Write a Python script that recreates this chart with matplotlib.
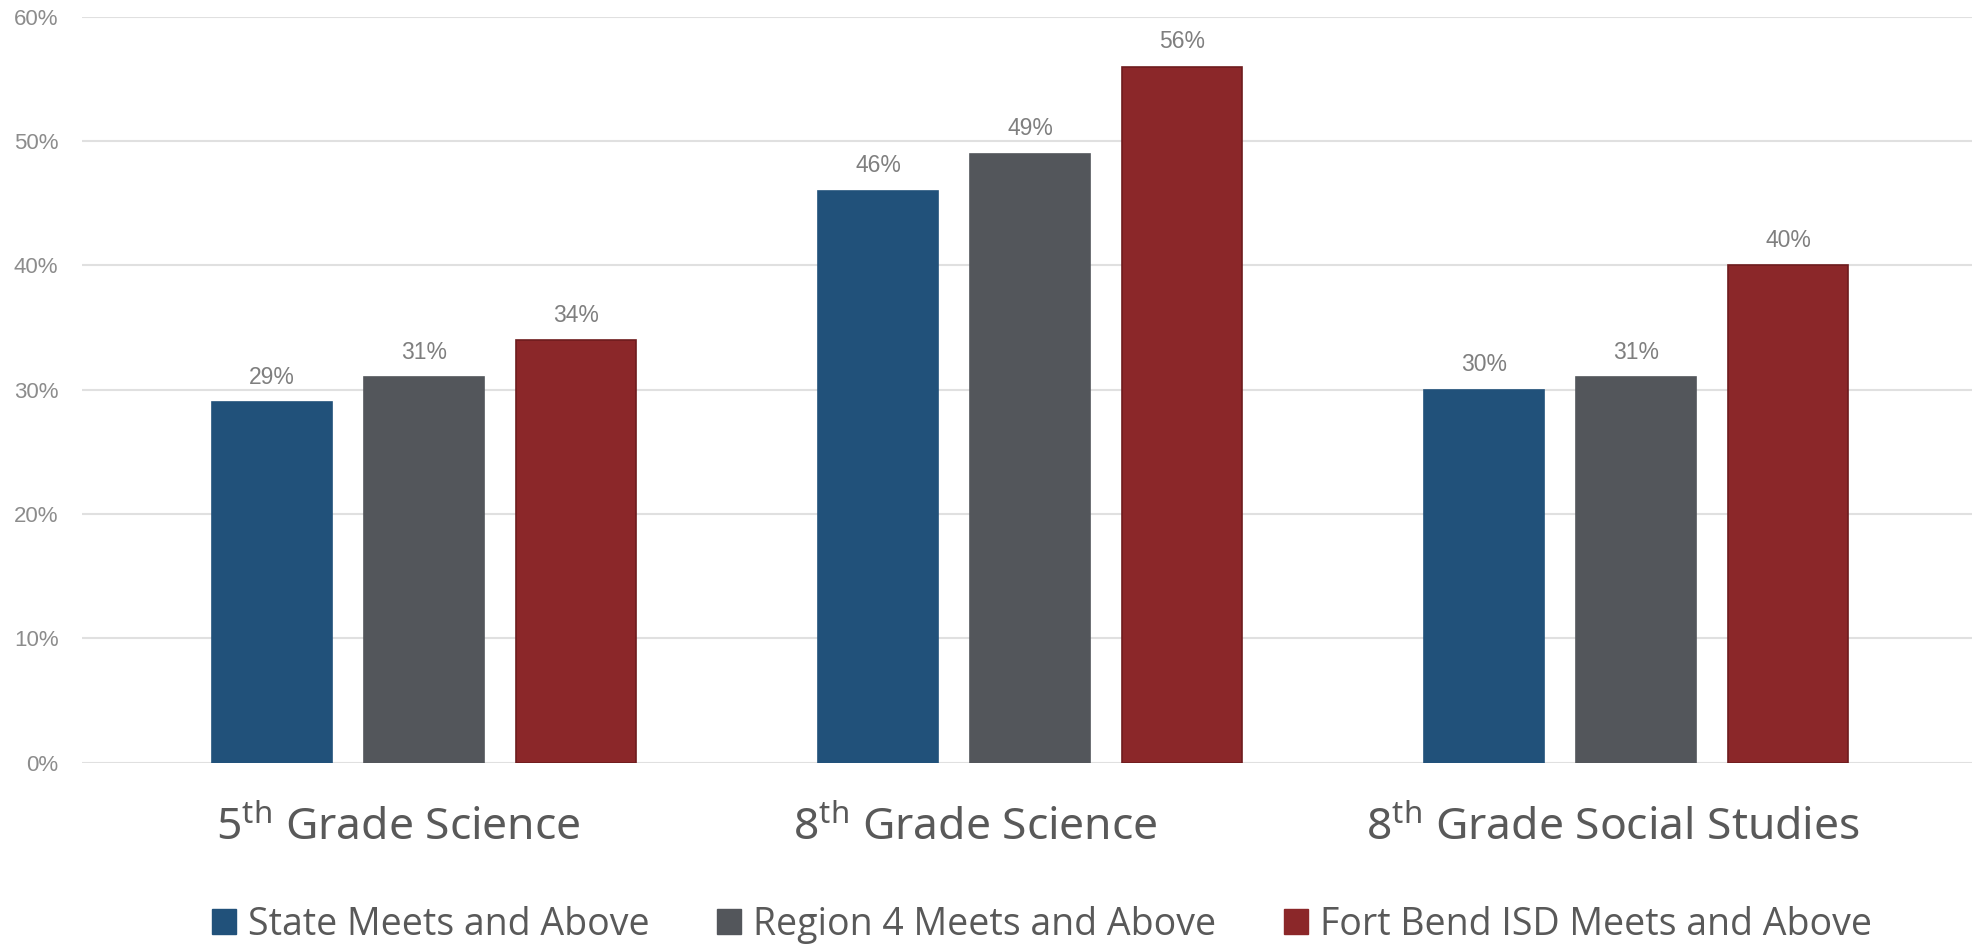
import matplotlib
matplotlib.use("Agg")
import matplotlib.pyplot as plt
import numpy as np
from matplotlib.patches import Patch

categories = ["5$^{\\mathrm{th}}$ Grade Science", "8$^{\\mathrm{th}}$ Grade Science", "8$^{\\mathrm{th}}$ Grade Social Studies"]
series_names = ["State Meets and Above", "Region 4 Meets and Above", "Fort Bend ISD Meets and Above"]
state_vals = [0.29, 0.46, 0.30]
region_vals = [0.31, 0.49, 0.31]
fbisd_vals = [0.34, 0.56, 0.40]
y_ticks = [0.0, 0.1, 0.2, 0.3, 0.4, 0.5, 0.6]
y_tick_labels = ["0%", "10%", "20%", "30%", "40%", "50%", "60%"]

colors = ["#21517A", "#53565B", "#8B2729"]
edges = ["#21517A", "#53565B", "#6E1C1E"]

plt.rcParams['mathtext.fontset'] = 'custom'
plt.rcParams['mathtext.rm'] = 'Noto Sans'

fig = plt.figure(figsize=(19.72, 9.47), dpi=100)
ax = fig.add_axes([82/1972, 1 - 762.7/947, 1890/1972, (762.7 - 16.9)/947])

x = np.arange(len(categories))
bw = 120/606
step = 152/606
all_vals = [state_vals, region_vals, fbisd_vals]
for i, vals in enumerate(all_vals):
    pos = x + (i - 1) * step
    bars = ax.bar(pos, vals, width=bw, color=colors[i], edgecolor=edges[i], linewidth=1.2, zorder=3)
    for b, v in zip(bars, vals):
        ax.annotate(f"{v*100:.0f}%", (b.get_x() + b.get_width()/2, v), xytext=(0, 18),
                    textcoords="offset points", ha="center", va="center",
                    fontsize=16.5, color="#7F7F7F", family="Liberation Sans")

ax.set_xlim((82 - 424)/606, (1972 - 424)/606)
ax.set_ylim(0, 0.6)
ax.set_yticks(y_ticks)
ax.set_yticklabels(y_tick_labels, fontsize=16, color="#8C8C8C", family="Liberation Sans")
ax.tick_params(axis="y", length=0, pad=17)
ax.yaxis.grid(True, color="#E0E0E0", linewidth=1.5, zorder=0)
ax.set_axisbelow(True)
for s in ax.spines.values():
    s.set_visible(False)
ax.set_xticks([])

label_dx = [-0.043, -0.091, -0.038]
for xi, lab, dx in zip(x, categories, label_dx):
    ax.text(xi + dx, -0.053, lab, ha="center", va="center", fontsize=32,
            color="#595959", family="Noto Sans")

handles = [Patch(facecolor=c, edgecolor=c) for c in colors]
leg = fig.legend(handles, series_names, loc="center", bbox_to_anchor=(1042/1972, 1 - 925/947),
                 ncol=3, frameon=False, handlelength=0.64, handleheight=0.64,
                 handletextpad=0.32, columnspacing=1.8, prop={"family": "Open Sans", "size": 27})
for t in leg.get_texts():
    t.set_color("#595959")

fig.savefig("out.png", dpi=100)
